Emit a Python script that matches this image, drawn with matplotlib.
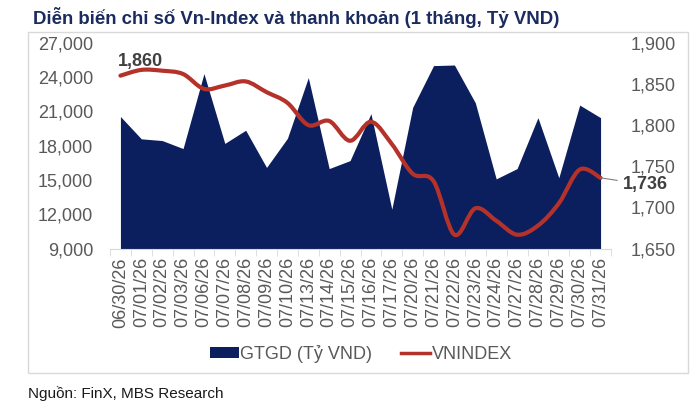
import numpy as np
import matplotlib
matplotlib.use("Agg")
import matplotlib.pyplot as plt
from matplotlib.path import Path
from matplotlib.patches import PathPatch, Patch, Rectangle
from matplotlib.lines import Line2D

plt.rcParams['font.family'] = ['Liberation Sans', 'DejaVu Sans']

# trading days (x labels)
dates = ["06/30/26", "07/01/26", "07/02/26", "07/03/26", "07/06/26", "07/07/26",
         "07/08/26", "07/09/26", "07/10/26", "07/13/26", "07/14/26", "07/15/26",
         "07/16/26", "07/17/26", "07/20/26", "07/21/26", "07/22/26", "07/23/26",
         "07/24/26", "07/27/26", "07/28/26", "07/29/26", "07/30/26", "07/31/26"]
# GTGD (ty VND), left axis
gtgd = [20550, 18600, 18450, 17750, 24300, 18200, 19350, 16100, 18650, 23950,
        16000, 16700, 20800, 12450, 21350, 25000, 25050, 21750, 15100, 16000,
        20450, 15200, 21550, 20450]
# VNINDEX, right axis
vnindex = [1860, 1867, 1866, 1862, 1844, 1848, 1853, 1840, 1827, 1800,
           1805, 1781, 1804, 1777, 1741, 1732, 1667, 1699, 1684, 1667,
           1678, 1705, 1746, 1736]

navy = "#0b1f5e"
red = "#b5322a"
grey_txt = "#595959"

fig = plt.figure(figsize=(7.0, 4.07), dpi=100)
ax = fig.add_axes([110 / 700, 1 - 248.7 / 407, 501 / 700, 206 / 407])

x = np.arange(len(dates))
ax.fill_between(x, 9000, gtgd, color=navy, linewidth=0, zorder=1)
ax.set_xlim(-0.5, len(dates) - 0.5)
ax.set_ylim(9000, 27000)
ax.set_yticks(range(9000, 27001, 3000))
ax.set_yticklabels([f"{v:,}" for v in range(9000, 27001, 3000)])

ax.set_xticks(x)
ax.set_xticklabels(dates, rotation=90)
ax.set_xticks(np.arange(-0.5, len(dates)), minor=True)
ax.tick_params(axis='x', which='major', length=0, pad=6, labelsize=13, labelcolor=grey_txt)
ax.tick_params(axis='x', which='minor', length=5, color="#d9d9d9")
ax.tick_params(axis='y', length=0, pad=12, labelsize=13, labelcolor=grey_txt)
for s in ['top', 'right', 'left']:
    ax.spines[s].set_visible(False)
ax.spines['bottom'].set_color("#d9d9d9")

# right axis with smoothed index line
ax2 = ax.twinx()
ax2.set_ylim(1650, 1900)
ax2.set_yticks(range(1650, 1901, 50))
ax2.set_yticklabels([f"{v:,}" for v in range(1650, 1901, 50)])
ax2.tick_params(axis='y', length=0, pad=14, labelsize=13, labelcolor=grey_txt)
for s in ['top', 'right', 'left', 'bottom']:
    ax2.spines[s].set_visible(False)

# smooth line like the spreadsheet: bezier segments through each point
pts = np.column_stack([x, vnindex]).astype(float)
ext = np.vstack([pts[0], pts, pts[-1]])
verts = [tuple(pts[0])]
codes = [Path.MOVETO]
for i in range(len(pts) - 1):
    p0, p1, p2, p3 = ext[i], ext[i + 1], ext[i + 2], ext[i + 3]
    c1 = p1 + (p2 - p0) / 6
    c2 = p2 - (p3 - p1) / 6
    verts += [tuple(c1), tuple(c2), tuple(p2)]
    codes += [Path.CURVE4] * 3
ax2.add_patch(PathPatch(Path(verts, codes), facecolor='none', edgecolor=red,
                        linewidth=3, capstyle='round', zorder=3))

ax2.annotate(f"{vnindex[0]:,}", (0, vnindex[0]), xytext=(-2, 4), textcoords='offset points',
             fontsize=13, fontweight='bold', color="#404040", ha='left', va='bottom')
ax2.annotate(f"{vnindex[-1]:,}", (len(dates) - 1, vnindex[-1]), xytext=(16, -5),
             textcoords='offset points', fontsize=13, fontweight='bold', color="#404040",
             ha='left', va='center',
             arrowprops=dict(arrowstyle='-', color="#808080", lw=0.8, shrinkA=2, shrinkB=0))

fig.text(33 / 700, 1 - 17 / 407, "Diễn biến chỉ số Vn-Index và thanh khoản (1 tháng, Tỷ VND)",
         fontsize=13.4, fontweight='bold', color="#1a2b5f", ha='left', va='center')
fig.text(28 / 700, 1 - 394 / 407, "Nguồn: FinX, MBS Research", fontsize=11,
         color="#1a1a1a", ha='left', va='center')

fig.patches.append(Rectangle((28 / 700, 1 - 373 / 407), 660 / 700, 341 / 407,
                             transform=fig.transFigure, fill=False,
                             edgecolor="#d9d9d9", linewidth=1))

handles = [Patch(facecolor=navy, edgecolor='none'), Line2D([], [], color=red, lw=2.5)]
fig.legend(handles, ["GTGD (Tỷ VND)", "VNINDEX"], loc='center',
           bbox_to_anchor=(361 / 700, 1 - 354 / 407), ncol=2, frameon=False,
           fontsize=13, labelcolor=grey_txt, handlelength=1.6, handleheight=0.55,
           handletextpad=0.1, columnspacing=1.6)

fig.savefig("out.png", dpi=100)
